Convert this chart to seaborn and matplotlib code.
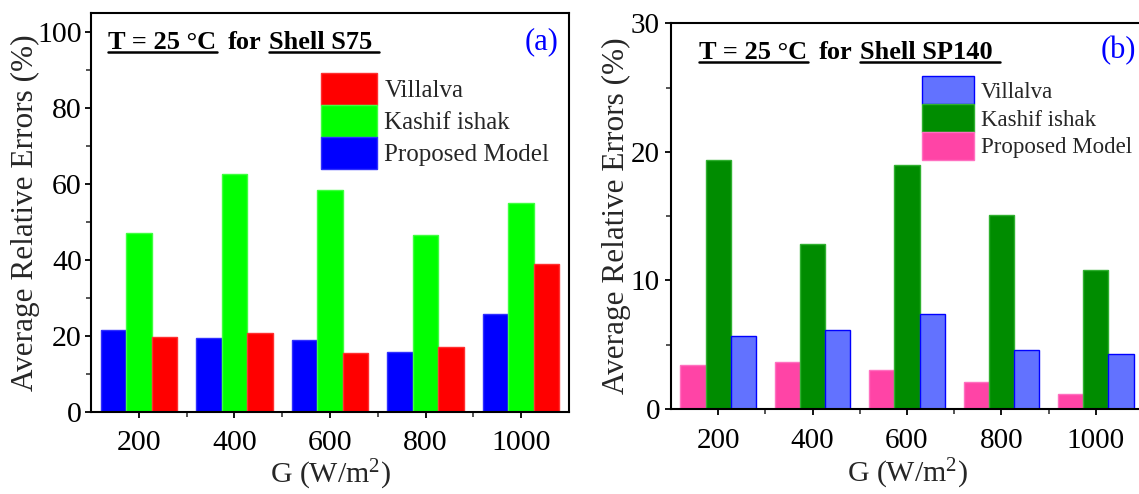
import matplotlib
matplotlib.use("Agg")
import matplotlib.pyplot as plt
import seaborn as sns
import pandas as pd
from matplotlib.patches import Patch
from matplotlib.lines import Line2D
from matplotlib.ticker import MultipleLocator, FixedLocator

# ---------------- data ----------------
irradiance = ["200", "400", "600", "800", "1000"]
models = ["Proposed Model", "Kashif ishak", "Villalva"]

s75_proposed = [21.5, 19.4, 18.9, 15.7, 25.9]
s75_kashif = [47.2, 62.6, 58.3, 46.5, 54.9]
s75_villalva = [19.7, 20.9, 15.5, 17.0, 39.0]

sp140_proposed = [3.4, 3.63, 3.0, 2.1, 1.17]
sp140_kashif = [19.4, 12.86, 18.98, 15.09, 10.81]
sp140_villalva = [5.65, 6.12, 7.36, 4.56, 4.25]

colors_a = {"Proposed Model": "#0000FF", "Kashif ishak": "#00FF00", "Villalva": "#FF0000"}
edges_a = {"Proposed Model": "#3030FF", "Kashif ishak": "#40FF40", "Villalva": "#FF3030"}
colors_b = {"Proposed Model": "#FF44A6", "Kashif ishak": "#008C00", "Villalva": "#6272FF"}
edges_b = {"Proposed Model": "#FF70C0", "Kashif ishak": "#30B030", "Villalva": "#0000FF"}


def long_df(proposed, kashif, villalva):
    rows = []
    for name, vals in zip(models, [proposed, kashif, villalva]):
        for g, v in zip(irradiance, vals):
            rows.append({"G": g, "model": name, "err": v})
    return pd.DataFrame(rows)


df_a = long_df(s75_proposed, s75_kashif, s75_villalva)
df_b = long_df(sp140_proposed, sp140_kashif, sp140_villalva)

sns.set_style("white")
plt.rcParams["font.family"] = ["Liberation Serif", "DejaVu Serif"]
plt.rcParams["mathtext.fontset"] = "custom"
plt.rcParams["mathtext.rm"] = "Liberation Serif"
plt.rcParams["mathtext.it"] = "Liberation Serif:italic"
plt.rcParams["mathtext.bf"] = "Liberation Serif:bold"

W, H = 1139, 494
fig = plt.figure(figsize=(W / 100, H / 100), dpi=100)

ax_a = fig.add_axes([91 / W, (H - 412) / H, (569 - 91) / W, (412 - 12.7) / H])
ax_b = fig.add_axes([671 / W, (H - 409) / H, (1143 - 671) / W, (409 - 23.3) / H])


def draw(ax, df, colors, edges, ylim, major, minor, tsize, xpad, ypad, xlpad, ylpad):
    sns.barplot(data=df, x="G", y="err", hue="model", order=irradiance,
                hue_order=models, palette=colors, width=0.8, saturation=1,
                ax=ax, legend=False)
    for cont, m in zip(ax.containers, models):
        for p in cont:
            p.set_edgecolor(edges[m])
            p.set_linewidth(1.0)
    ax.set_xlim(-0.5, 4.5)
    ax.set_ylim(*ylim)
    ax.yaxis.set_major_locator(MultipleLocator(major))
    ax.yaxis.set_minor_locator(MultipleLocator(minor))
    ax.xaxis.set_minor_locator(FixedLocator([0.5, 1.5, 2.5, 3.5]))
    ax.tick_params(axis="both", which="major", direction="out", length=4.5,
                   width=1.3, labelsize=tsize, colors="black",
                   bottom=True, left=True, top=False, right=False)
    ax.tick_params(axis="x", which="major", pad=xpad)
    ax.tick_params(axis="y", which="major", pad=ypad)
    ax.tick_params(axis="both", which="minor", direction="out", length=3.5,
                   width=1.1, bottom=True, left=True, top=False, right=False)
    for s in ax.spines.values():
        s.set_visible(True)
        s.set_color("black")
        s.set_linewidth(1.5)
    ax.set_xlabel("G (W/m$^2$)", fontsize=21.5, labelpad=xlpad)
    ax.set_ylabel("Average Relative Errors (%)", fontsize=22.5, labelpad=ylpad)
    handles = [Patch(facecolor=colors[m], edgecolor=edges[m], linewidth=1.0, label=m)
               for m in reversed(models)]
    return handles


h_a = draw(ax_a, df_a, colors_a, edges_a, (0, 105), 20, 10, 21.5, 8.5, 2, 1.5, -2)
h_b = draw(ax_b, df_b, colors_b, edges_b, (0, 30), 10, 5, 21, 9, 3.5, 2.5, 0)

fig.legend(handles=h_a, loc="upper left", bbox_to_anchor=(321 / W, 1 - 72.7 / H),
           frameon=False, fontsize=18, handlelength=56 / 25, handleheight=1.59,
           labelspacing=0.0, handletextpad=0.3, borderpad=0, borderaxespad=0)
fig.legend(handles=h_b, loc="upper left", bbox_to_anchor=(922 / W, 1 - 76 / H),
           frameon=False, fontsize=16.5, handlelength=52 / 23, handleheight=1.5,
           labelspacing=0.0, handletextpad=0.3, borderpad=0, borderaxespad=0)

fig.canvas.draw()
renderer = fig.canvas.get_renderer()


def header(x_px, base_px, parts):
    x = x_px
    for text, underline, gap in parts:
        t = fig.text(x / W, 1 - base_px / H, text, fontsize=19, fontweight="bold",
                     ha="left", va="baseline", color="black")
        bb = t.get_window_extent(renderer)
        x0 = bb.x0
        x1 = bb.x1
        if underline:
            yline = (H - base_px - 3) / H
            fig.add_artist(Line2D([x0 / W, (x1 + underline) / W], [yline, yline],
                                  color="black", linewidth=1.8,
                                  transform=fig.transFigure))
        x = x1 + gap


header(108, 49, [("T = 25 °C", 1, 12), ("for", 0, 7), ("Shell S75", 7, 0)])
header(699, 59, [("T = 25 °C", 1, 12), ("for", 0, 7), ("Shell SP140", 7, 0)])

fig.text(558 / W, 1 - 49 / H, "(a)", fontsize=22, color="#0000FF",
         ha="right", va="baseline")
fig.text(1136 / W, 1 - 58 / H, "(b)", fontsize=22, color="#0000FF",
         ha="right", va="baseline")

fig.savefig("out.png", dpi=100)
